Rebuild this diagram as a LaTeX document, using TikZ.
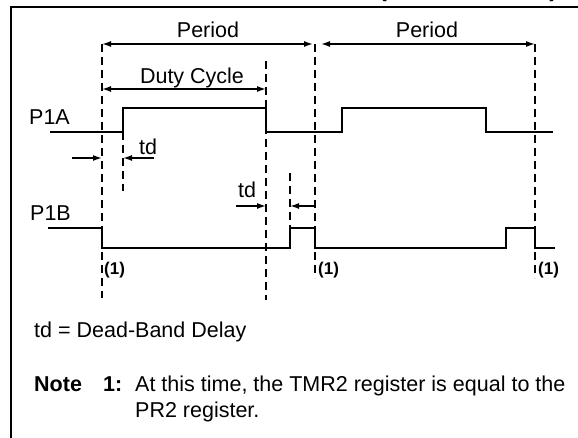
\documentclass[tikz,border=0pt]{standalone}
\usepackage{fontspec}
\setmainfont{Liberation Sans}
\usetikzlibrary{calc, positioning, arrows.meta}

\tikzset{
  sig/.style={line width=1.5pt},
  guide/.style={line width=1.5pt, dash pattern=on 8pt off 5pt},
  dimline/.style={line width=1.5pt},
  txt/.style={font=\fontsize{21.5}{25}\selectfont, inner sep=0pt},
  txtb/.style={font=\fontsize{21.5}{25}\selectfont\bfseries, inner sep=0pt},
  refmark/.style={font=\fontsize{17}{20}\selectfont\bfseries, inner sep=0pt, anchor=base west},
}

\begin{document}
\begin{tikzpicture}[x=1pt, y=-1pt, >={Latex[length=9pt,width=6pt]}]
  \useasboundingbox (0,0) rectangle (578,438);
  % frame, caption cut off at the top
  \begin{scope}
    \clip (300,0) rectangle (578,6);
    \node[anchor=base east, font=\fontsize{25}{30}\selectfont\bfseries, inner sep=0pt] (cap) at (558,-3.5) {(ACTIVE-HIGH)};
  \end{scope}
  \draw[line width=2pt] (11,438) -- (11,7) -- (578,7);

  % dashed guides: 1 = top, 2 = bottom
  \coordinate (A1) at (102,44);  \coordinate (A2) at (102,298);
  \coordinate (B1) at (266,61);  \coordinate (B2) at (266,300);
  \coordinate (C1) at (315,44);  \coordinate (C2) at (315,278);
  \coordinate (D1) at (535,44);  \coordinate (D2) at (535,278);
  \coordinate (E1) at (123,132); \coordinate (E2) at (123,191);
  \coordinate (F1) at (290,173); \coordinate (F2) at (290,228);
  \foreach \n in {A,B,C,D,E,F}
    \draw[guide] (\n1) -- (\n2);

  % P1A and P1B
  \draw[sig] (50,132) -- (123,132) -- (123,108) -- (266,108) -- (266,132) -- (342,132) -- (342,108) -- (486,108) -- (486,132) -- (553,132);
  \draw[sig] (48,228) -- (102,228) -- (102,248) -- (290,248) -- (290,228) -- (315,228) -- (315,248) -- (506,248) -- (506,228) -- (535,228) -- (535,248) -- (555,248);

  % period and duty cycle
  \draw[dimline, <->, shorten >=2pt] (A1) -- (C1);
  \draw[dimline, <->, shorten <=6pt] (C1) -- (D1);
  \coordinate (duty0) at (102,89);
  \draw[dimline, <->] (duty0) -- (B1 |- duty0);
  \node[txt, anchor=base] (per1) at (208,37.5) {Period};
  \node[txt, anchor=base] (per2) at (427,37.5) {Period};
  \node[txt, anchor=base] (duty) at (192,83.5) {Duty Cycle};

  % dead band
  \coordinate (td1a) at (72,158);
  \coordinate (td1b) at (154,158);
  \coordinate (td2a) at (236,206);
  \draw[dimline, ->] (td1a) -- (A1 |- td1a);
  \draw[dimline, ->] (td1b) -- (E1 |- td1b);
  \draw[dimline, ->] (td2a) -- (B1 |- td2a);
  \draw[dimline, ->] (C1 |- td2a) -- (F1 |- td2a);
  \node[txt, anchor=base] (td1) at (148,155) {td};
  \node[txt, anchor=base] (td2) at (247,198) {td};

  \node[txt, anchor=base west] (p1a) at (29,124.5) {P1A};
  \node[txt, anchor=base west] (p1b) at (30,220.5) {P1B};
  \foreach \x/\n in {104/m1, 318/m2, 538/m3}
    \node[refmark] (\n) at (\x,275) {(1)};

  % legend
  \node[txt, anchor=base west] (tdnote) at (34,337.5) {td = Dead-Band Delay};
  \node[txtb, anchor=base west] (note) at (34,391.5) {Note};
  \node[txtb, anchor=base west] (note1) at (103,391.5) {1:};
  \node[txt, anchor=base west] (line1) at (135,391.5) {At this time, the TMR2 register is equal to the};
  \node[txt, anchor=base west] (line2) at (135,417.5) {PR2 register.};
\end{tikzpicture}
\end{document}
